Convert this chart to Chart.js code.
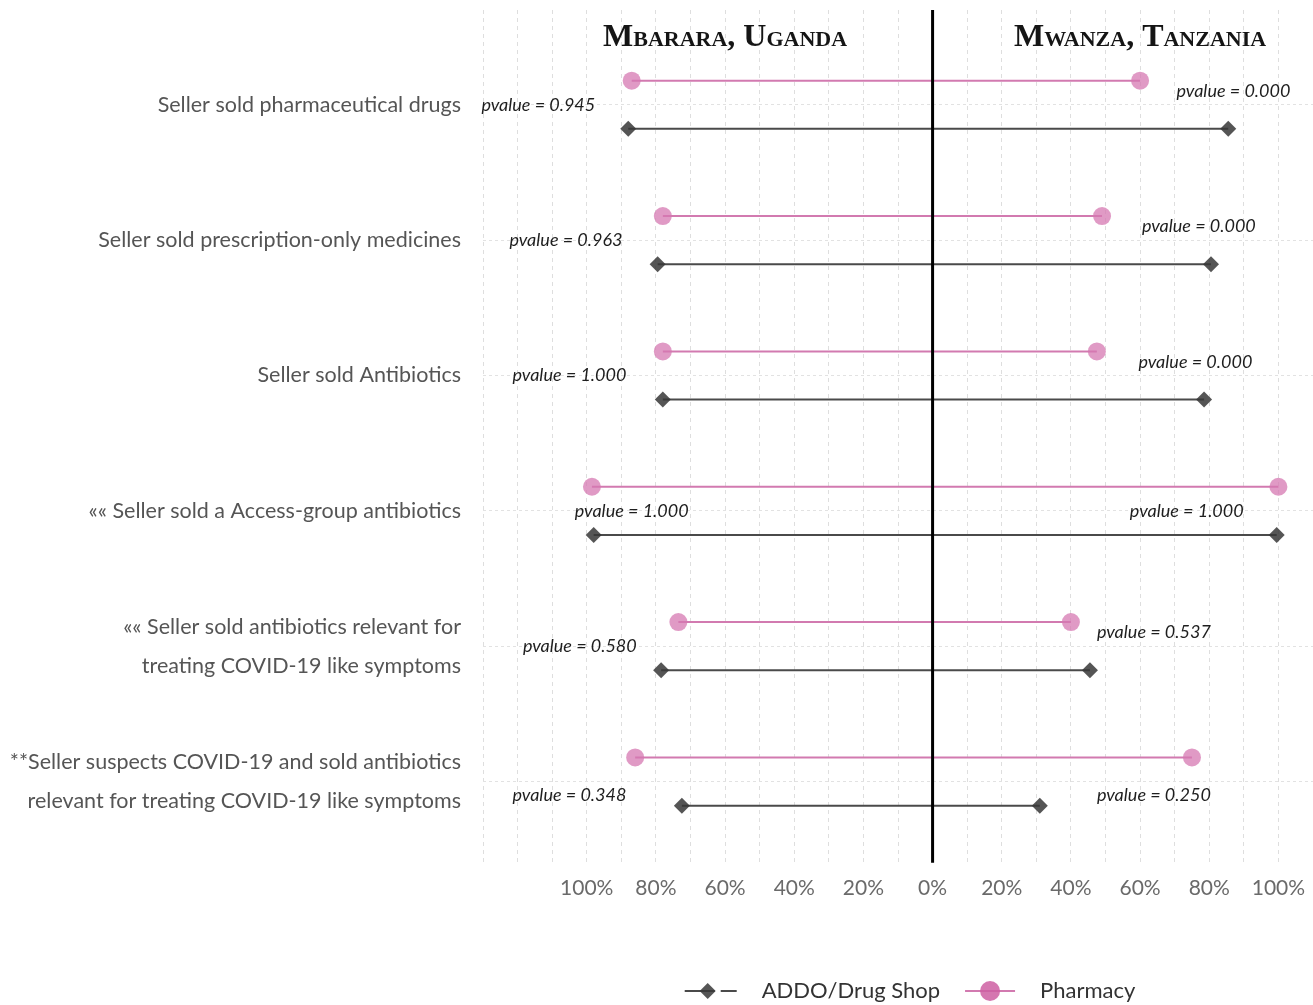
<!DOCTYPE html>
<html lang="en">
<head>
<meta charset="UTF-8">
<title>Seller behaviour: Mbarara vs Mwanza</title>
<script src="https://cdn.jsdelivr.net/npm/chart.js"></script>
<style>
  body { margin: 0; background: #fff; overflow: hidden; }
  canvas { display: block; }
</style>
</head>
<body>
<canvas id="dumbbell" width="1313" height="1005"></canvas>
<script>
const categories = [
  ['Seller sold pharmaceutical drugs'],
  ['Seller sold prescription-only medicines'],
  ['Seller sold Antibiotics'],
  ['«« Seller sold a Access-group antibiotics'],
  ['«« Seller sold antibiotics relevant for', 'treating COVID-19 like symptoms'],
  ['**Seller suspects COVID-19 and sold antibiotics', 'relevant for treating COVID-19 like symptoms']
];
const sites = ['Mbarara, Uganda', 'Mwanza, Tanzania'];
const seriesNames = ['ADDO/Drug Shop', 'Pharmacy'];

// % of sellers, Uganda plotted to the left, Tanzania to the right
const pharmacyUganda   = [87, 78, 78, 98.5, 73.5, 86];
const pharmacyTanzania = [60, 49, 47.5, 100, 40, 75];
const addoUganda       = [88, 79.5, 78, 98, 78.5, 72.5];
const addoTanzania     = [85.5, 80.5, 78.5, 99.5, 45.5, 31];

const pvalueUganda   = ['0.945', '0.963', '1.000', '1.000', '0.580', '0.348'];
const pvalueTanzania = ['0.000', '0.000', '0.000', '1.000', '0.537', '0.250'];

const xTickLabels = [-100, -80, -60, -40, -20, 0, 20, 40, 60, 80, 100];

// where the p-value labels sit (x in %, y shift in rows)
const pLeftAt = [-114, -106, -105, -87, -102, -105];
const pRightAt = [87, 77, 76, 73.5, 64, 64];
const pLeftShift = [0, 0, 0, 0, 0, 0.1];
const pRightShift = [-0.1, -0.1, -0.1, 0, -0.1, 0.1];

const dodge = 0.178;
const pinkLine = '#d27ab0';
const pinkDot = 'rgba(214, 120, 178, 0.75)';
const greyLine = '#4a4a4a';
const greyDot = 'rgba(55, 55, 55, 0.85)';

const datasets = [];
categories.forEach((c, i) => {
  datasets.push({
    label: seriesNames[1],
    data: [{x: -pharmacyUganda[i], y: i + 1 - dodge}, {x: pharmacyTanzania[i], y: i + 1 - dodge}],
    borderColor: pinkLine,
    borderWidth: 2,
    pointStyle: 'circle',
    pointRadius: 9,
    pointBorderWidth: 0,
    pointBackgroundColor: pinkDot
  });
  datasets.push({
    label: seriesNames[0],
    data: [{x: -addoUganda[i], y: i + 1 + dodge}, {x: addoTanzania[i], y: i + 1 + dodge}],
    borderColor: greyLine,
    borderWidth: 2,
    pointStyle: 'rectRot',
    pointRadius: 8,
    pointBorderWidth: 0,
    pointBackgroundColor: greyDot
  });
});

const decorations = {
  id: 'decorations',
  afterDatasetsDraw(chart) {
    const {ctx, chartArea, scales: {x, y}} = chart;
    ctx.save();

    // zero line
    const x0 = x.getPixelForValue(0);
    ctx.strokeStyle = '#000';
    ctx.lineWidth = 3;
    ctx.beginPath();
    ctx.moveTo(x0, chartArea.top);
    ctx.lineTo(x0, chartArea.bottom);
    ctx.stroke();

    // country headings
    ctx.font = 'small-caps bold 32px "Liberation Serif"';
    ctx.fillStyle = '#151515';
    ctx.textAlign = 'center';
    ctx.textBaseline = 'middle';
    ctx.fillText(sites[0], x.getPixelForValue(-60), chartArea.top + 28);
    ctx.fillText(sites[1], x.getPixelForValue(60), chartArea.top + 28);

    // p-values
    ctx.font = 'italic 18px Lato';
    ctx.fillStyle = '#1e1e1e';
    categories.forEach((c, i) => {
      ctx.fillText('pvalue = ' + pvalueUganda[i], x.getPixelForValue(pLeftAt[i]), y.getPixelForValue(i + 1 + pLeftShift[i]));
      ctx.fillText('pvalue = ' + pvalueTanzania[i], x.getPixelForValue(pRightAt[i]), y.getPixelForValue(i + 1 + pRightShift[i]));
    });

    // legend
    const ly = chart.height - 14;
    ctx.font = '22px Lato';
    const w0 = ctx.measureText(seriesNames[0]).width;
    const w1 = ctx.measureText(seriesNames[1]).width;
    const total = 52 + 25 + w0 + 25 + 50 + 25 + w1;
    let lx = (chartArea.left + chartArea.right) / 2 + 12 - total / 2;

    ctx.strokeStyle = greyLine;
    ctx.lineWidth = 2;
    ctx.beginPath();
    ctx.moveTo(lx, ly); ctx.lineTo(lx + 30, ly);
    ctx.moveTo(lx + 36, ly); ctx.lineTo(lx + 52, ly);
    ctx.stroke();
    ctx.fillStyle = greyDot;
    ctx.beginPath();
    ctx.moveTo(lx + 23, ly - 8); ctx.lineTo(lx + 31, ly); ctx.lineTo(lx + 23, ly + 8); ctx.lineTo(lx + 15, ly);
    ctx.closePath();
    ctx.fill();
    lx += 52 + 25;
    ctx.fillStyle = '#333';
    ctx.textAlign = 'left';
    ctx.fillText(seriesNames[0], lx, ly);
    lx += w0 + 25;

    ctx.strokeStyle = pinkLine;
    ctx.beginPath();
    ctx.moveTo(lx, ly); ctx.lineTo(lx + 50, ly);
    ctx.stroke();
    ctx.fillStyle = 'rgba(206, 95, 162, 0.85)';
    ctx.beginPath();
    ctx.arc(lx + 25, ly, 10, 0, Math.PI * 2);
    ctx.fill();
    lx += 50 + 25;
    ctx.fillStyle = '#333';
    ctx.fillText(seriesNames[1], lx, ly);

    ctx.restore();
  }
};

new Chart(document.getElementById('dumbbell'), {
  type: 'line',
  data: {datasets: datasets},
  options: {
    responsive: false,
    animation: false,
    layout: {autoPadding: false, padding: {top: 10, right: 0, bottom: 91, left: 0}},
    plugins: {
      legend: {display: false},
      tooltip: {enabled: false}
    },
    scales: {
      x: {
        type: 'linear',
        min: -130,
        max: 110,
        afterBuildTicks: s => {
          const t = [];
          for (let v = -130; v <= 110; v += 10) t.push({value: v});
          s.ticks = t;
        },
        afterFit: s => { s.paddingLeft = 0; s.paddingRight = 0; },
        ticks: {
          autoSkip: false,
          maxRotation: 0,
          padding: 13,
          color: '#6a6a6a',
          font: {family: 'Lato', size: 21},
          callback: v => xTickLabels.includes(v) ? Math.abs(v) + '%' : ''
        },
        grid: {color: '#dedede', drawTicks: false},
        border: {display: false, dash: [4, 4]}
      },
      y: {
        type: 'linear',
        reverse: true,
        min: 0.3,
        max: 6.6,
        afterBuildTicks: s => { s.ticks = categories.map((c, i) => ({value: i + 1})); },
        afterFit: s => { s.width = 483; s.paddingTop = 0; s.paddingBottom = 0; },
        ticks: {
          padding: 22,
          color: '#555',
          font: {family: 'Lato', size: 21.5, lineHeight: 1.8},
          callback: v => categories[Math.round(v) - 1]
        },
        grid: {color: '#e2e2e2', drawTicks: false},
        border: {display: false, dash: [3, 3]}
      }
    }
  },
  plugins: [decorations]
});
</script>
</body>
</html>
